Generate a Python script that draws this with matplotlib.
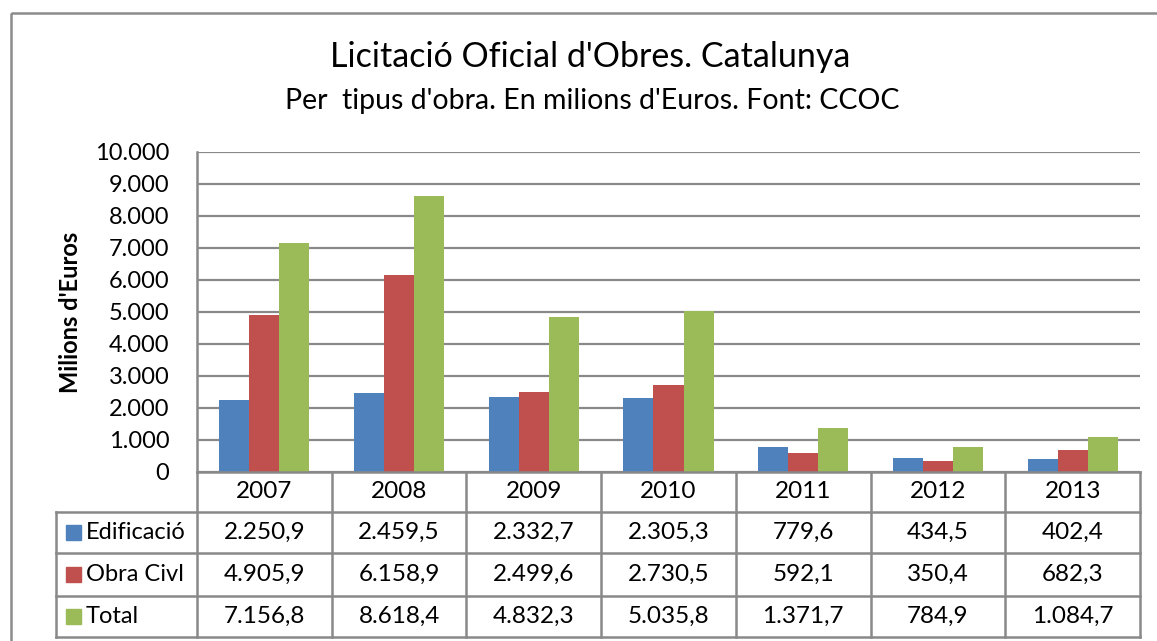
import numpy as np
import matplotlib
matplotlib.use("Agg")
import matplotlib.pyplot as plt
from matplotlib.patches import Rectangle
from matplotlib.ticker import FuncFormatter

plt.rcParams['font.family'] = ['Lato', 'DejaVu Sans']

# data (milions d'euros)
years = ['2007', '2008', '2009', '2010', '2011', '2012', '2013']
edificacio = [2250.9, 2459.5, 2332.7, 2305.3, 779.6, 434.5, 402.4]
obra_civil = [4905.9, 6158.9, 2499.6, 2730.5, 592.1, 350.4, 682.3]
total = [7156.8, 8618.4, 4832.3, 5035.8, 1371.7, 784.9, 1084.7]
series_names = ['Edificació', 'Obra Civl', 'Total']
colors = ['#4F81BD', '#C0504D', '#9BBB59']
grid_col = '#898989'

W, H = 1157, 641
fig = plt.figure(figsize=(W / 100, H / 100), dpi=100)

# plot area in pixels
px_l, px_r, px_t, px_b = 197, 1140, 152, 472
ax = fig.add_axes([px_l / W, 1 - px_b / H, (px_r - px_l) / W, (px_b - px_t) / H])

x = np.arange(len(years))
bw = 0.223
for i, vals in enumerate([edificacio, obra_civil, total]):
    ax.bar(x + (i - 1) * bw, vals, bw, color=colors[i], zorder=3)

ax.set_xlim(-0.5, len(years) - 0.5)
ax.set_ylim(0, 10000)
ax.set_yticks(np.arange(0, 10001, 1000))
ax.yaxis.set_major_formatter(FuncFormatter(lambda v, p: f"{int(v):,}".replace(',', '.')))
ax.tick_params(axis='y', length=0, labelsize=17, pad=20)
ax.set_xticks([])
ax.grid(axis='y', color=grid_col, lw=1.6, zorder=0)
for s in ['top', 'right', 'bottom']:
    ax.spines[s].set_visible(False)
ax.spines['left'].set_color(grid_col)
ax.spines['left'].set_linewidth(1.8)
ax.set_ylabel("Milions d'Euros", fontsize=17, fontweight='bold', labelpad=9)

# overlay in pixel coordinates for table, titles and frame
ov = fig.add_axes([0, 0, 1, 1], zorder=-1)
ov.set_xlim(0, W)
ov.set_ylim(H, 0)
ov.axis('off')
ov2 = fig.add_axes([0, 0, 1, 1], zorder=5)
ov2.set_xlim(0, W)
ov2.set_ylim(H, 0)
ov2.axis('off')

ov.add_patch(Rectangle((11, 13), 1300, 800, fill=False, ec='#8c8c8c', lw=1.8))

ov2.text(590, 57, "Licitació Oficial d'Obres. Catalunya", fontsize=24.5, ha='center', va='center')
ov2.text(592, 101, "Per  tipus d'obra. En milions d'Euros. Font: CCOC", fontsize=20.5, ha='center', va='center')

# data table
col_w = (px_r - px_l) / len(years)
lab_l = 56
rows_y = [472, 512, 553, 596, 637]
lw = 1.8
ov2.plot([px_l, px_r], [rows_y[0], rows_y[0]], color=grid_col, lw=lw)
for yy in rows_y[1:]:
    ov2.plot([lab_l, px_r], [yy, yy], color=grid_col, lw=lw)
for j in range(len(years) + 1):
    xx = px_l + j * col_w
    ov2.plot([xx, xx], [rows_y[0], rows_y[-1]], color=grid_col, lw=lw)
ov2.plot([lab_l, lab_l], [rows_y[1], rows_y[-1]], color=grid_col, lw=lw)


def fmt(v):
    s = f"{v:,.1f}"
    return s.replace(',', 'X').replace('.', ',').replace('X', '.')


for j, yr in enumerate(years):
    cx = px_l + (j + 0.5) * col_w
    ov2.text(cx, (rows_y[0] + rows_y[1]) / 2, yr, fontsize=17.5, ha='center', va='center')
    for i, vals in enumerate([edificacio, obra_civil, total]):
        ov2.text(cx, (rows_y[i + 1] + rows_y[i + 2]) / 2, fmt(vals[j]),
                 fontsize=17.5, ha='center', va='center')

for i, name in enumerate(series_names):
    cy = (rows_y[i + 1] + rows_y[i + 2]) / 2
    ov2.add_patch(Rectangle((66, cy - 7.5), 15, 15, color=colors[i]))
    ov2.text(86, cy, name, fontsize=17, ha='left', va='center')

fig.savefig('out.png', dpi=100)
